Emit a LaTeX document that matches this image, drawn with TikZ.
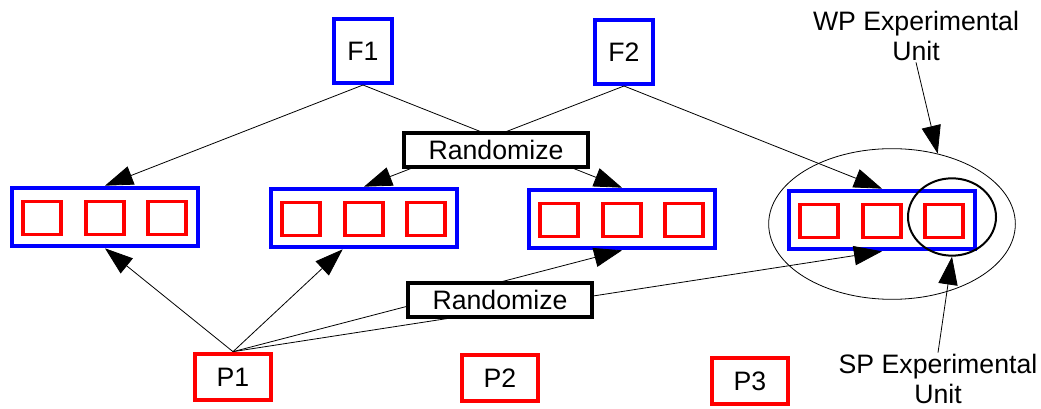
\documentclass[tikz,border=0pt]{standalone}
\usepackage{fontspec}
\setmainfont{Liberation Sans}
\usetikzlibrary{arrows.meta,shapes.geometric}
\definecolor{wblue}{rgb}{0,0,1}
\definecolor{sred}{rgb}{1,0,0}

\begin{document}
\begin{tikzpicture}[x=0.75pt,y=-0.75pt,
  every node/.style={font=\fontsize{20}{22.5}\selectfont},
  fbox/.style={draw=wblue,line width=3pt,minimum width=43.5pt,minimum height=48pt,inner sep=0pt},
  wpbox/.style={draw=wblue,line width=3pt,fill=white,minimum width=139.5pt,minimum height=44pt,inner sep=0pt},
  spbox/.style={draw=sred,line width=2.6pt,minimum width=28.5pt,minimum height=24.75pt,inner sep=0pt},
  pbox/.style={draw=sred,line width=3pt,minimum width=57pt,minimum height=35pt,inner sep=0pt},
  randbox/.style={draw=black,line width=3pt,fill=white,minimum width=138pt,minimum height=25.5pt,inner sep=0pt},
  arr/.style={-{Triangle[length=21pt,width=14.5pt]},line width=0.6pt}]
\useasboundingbox (0,0) rectangle (1041,409);
% factors
\node[fbox] (f1) at (363,51) {F1};
\node[fbox] (f2) at (624,52) {F2};
% plots
\node[pbox] (p1) at (233,377) {P1};
\node[pbox] (p2) at (500,378) {P2};
\node[pbox] (p3) at (750,381) {P3};
% whole plots with their split plots
\foreach \n/\x/\y in {1/105/217,2/364/218,3/622/219,4/882/220} {
    \node[wpbox] (b\n) at (\x,\y) {};
    \foreach \k/\d in {1/-63,2/0,3/62} {
        \node[spbox] (b\n-\k) at (\x+\d,\y+1) {};
    }
}
\node[draw,ellipse,line width=0.6pt,minimum width=185pt,minimum height=113pt,inner sep=0pt] (wp) at (892,224) {};
\node[align=center,inner sep=1pt] (wpt) at (916,36) {WP Experimental\\Unit};
\node[align=center,inner sep=1pt] (spt) at (938,379) {SP Experimental\\Unit};
% assignments
\draw[arr] (f1.south) -- (b1.north);
\draw[arr] (f1.south) -- (b3.north);
\draw[arr] (f2.south) -- (b2.north);
\draw[arr] (f2.south) -- (b4.north);
\draw[arr] (p1.north) -- (b1.south);
\draw[arr] (p1.north) -- ([xshift=-16pt]b2.south);
\draw[arr] (p1.north) -- (b3.south);
\draw[arr] (p1.north) -- (b4.south);
\node[randbox] (r1) at (496,150) {Randomize};
\node[randbox] (r2) at (500,300) {Randomize};
\node[draw,ellipse,line width=1.5pt,minimum width=66pt,minimum height=58pt,inner sep=0pt] (sp) at (952,217) {};
\draw[arr] (wpt.south) -- (wp.57);
\draw[arr] (spt.north) -- (sp.south);
\end{tikzpicture}
\end{document}
